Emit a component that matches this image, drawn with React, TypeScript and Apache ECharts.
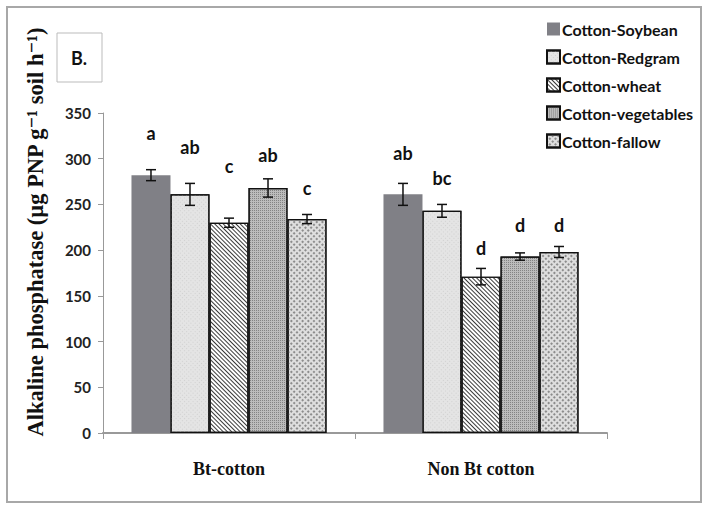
import React, { useEffect, useRef } from "react";
import * as echarts from "echarts";

const categories = ["Bt-cotton", "Non Bt cotton"];
const seriesNames = ["Cotton-Soybean", "Cotton-Redgram", "Cotton-wheat", "Cotton-vegetables", "Cotton-fallow"];
// values per series: [Bt-cotton, Non Bt cotton]
const soybean = [282, 261];
const redgram = [261, 243];
const wheat = [230, 171];
const vegetables = [268, 193];
const fallow = [234, 198];
const soybeanErr = [6, 12];
const redgramErr = [12, 7];
const wheatErr = [5, 9];
const vegetablesErr = [10, 4];
const fallowErr = [5, 6];
const soybeanLetters = ["a", "ab"];
const redgramLetters = ["ab", "bc"];
const wheatLetters = ["c", "d"];
const vegetablesLetters = ["ab", "d"];
const fallowLetters = ["c", "d"];
// letter heights (axis units) as placed in the figure
const soybeanLetterLevel = [328, 306];
const redgramLetterLevel = [313, 279];
const wheatLetterLevel = [292, 202];
const vegetablesLetterLevel = [304, 227];
const fallowLetterLevel = [268, 227];
const yTicks = { min: 0, max: 350, interval: 50 };

const values = [soybean, redgram, wheat, vegetables, fallow];
const errs = [soybeanErr, redgramErr, wheatErr, vegetablesErr, fallowErr];
const letters = [soybeanLetters, redgramLetters, wheatLetters, vegetablesLetters, fallowLetters];
const letterLevels = [soybeanLetterLevel, redgramLetterLevel, wheatLetterLevel, vegetablesLetterLevel, fallowLetterLevel];

const CAT_GAP = 0.226;
const LABEL_FONT = "Lato, 'Open Sans', sans-serif";
const SERIF = "'Liberation Serif', 'DejaVu Serif', serif";

const styles: any[] = [
  { color: "#808086", borderWidth: 0 },
  {
    color: "#e4e4e4", borderColor: "#111", borderWidth: 1.2,
    decal: { symbol: "rect", symbolSize: 1, color: "#d0d0d0", dashArrayX: [1, 2], dashArrayY: [1, 2], rotation: Math.PI / 4 },
  },
  {
    color: "#ffffff", borderColor: "#111", borderWidth: 1.2,
    decal: { symbol: "rect", symbolSize: 1, color: "#3a3a3a", dashArrayX: [1, 0], dashArrayY: [1, 1.2], rotation: Math.PI / 4 },
  },
  {
    color: "#bcbcbc", borderColor: "#111", borderWidth: 1.2,
    decal: { symbol: "rect", symbolSize: 1, color: "#838383", dashArrayX: [1, 1], dashArrayY: [1, 1] },
  },
  {
    color: "#dedede", borderColor: "#111", borderWidth: 1.2,
    decal: { symbol: "rect", symbolSize: 1, color: "#8c8c8c", dashArrayX: [1.6, 1.6], dashArrayY: [1.6, 1.6], rotation: Math.PI / 4 },
  },
];

export default function App() {
  const ref = useRef<HTMLDivElement>(null);
  useEffect(() => {
    document.body.style.margin = "0";
    const chart = echarts.init(ref.current!, null, { renderer: "svg" });

    const errData: any[] = [];
    const letterData: any[] = [];
    values.forEach((arr, s) => {
      arr.forEach((v, c) => {
        errData.push([c, s, v, errs[s][c]]);
        letterData.push([c, s, letterLevels[s][c], letters[s][c]]);
      });
    });

    const offsetX = (api: any, s: number) => {
      const band = api.size([1, 0])[0];
      const barW = (band * (1 - CAT_GAP)) / values.length;
      return (s - (values.length - 1) / 2) * barW;
    };

    const option: any = {
      animation: false,
      backgroundColor: "#ffffff",
      grid: { left: 103, right: 96, top: 113, bottom: 72 },
      legend: {
        orient: "vertical",
        left: 541,
        top: 16,
        itemWidth: 13,
        itemHeight: 13,
        itemGap: 12,
        icon: "rect",
        data: seriesNames,
        textStyle: { fontFamily: LABEL_FONT, fontWeight: "bold", fontSize: 16, color: "#111", padding: [0, 0, 0, -3] },
      },
      xAxis: {
        type: "category",
        data: categories,
        axisLine: { lineStyle: { color: "#999", width: 2 } },
        axisTick: { show: true, length: 6, lineStyle: { color: "#999" } },
        axisLabel: { margin: 27, fontFamily: SERIF, fontWeight: "bold", fontSize: 18, color: "#111" },
      },
      yAxis: {
        type: "value",
        min: yTicks.min,
        max: yTicks.max,
        interval: yTicks.interval,
        axisLine: { show: true, lineStyle: { color: "#999" } },
        axisTick: { show: true, length: 5, lineStyle: { color: "#999" } },
        splitLine: { show: false },
        axisLabel: { margin: 12, fontFamily: LABEL_FONT, fontWeight: "bold", fontSize: 15, color: "#222" },
      },
      series: [
        ...seriesNames.map((name, s) => ({
          name,
          type: "bar",
          data: values[s],
          barGap: "0%",
          barCategoryGap: CAT_GAP * 100 + "%",
          itemStyle: styles[s],
        })),
        {
          type: "custom",
          name: "err",
          data: errData,
          encode: { x: 0, y: 2 },
          z: 10,
          renderItem: (params: any, api: any) => {
            const c = api.value(0);
            const s = api.value(1);
            const v = api.value(2);
            const e = api.value(3);
            const dx = offsetX(api, s);
            const hi = api.coord([c, v + e]);
            const lo = api.coord([c, v - e]);
            const x = hi[0] + dx;
            const cap = 5;
            const st = { stroke: "#111", lineWidth: 1.5 };
            return {
              type: "group",
              children: [
                { type: "line", shape: { x1: x, y1: hi[1], x2: x, y2: lo[1] }, style: st },
                { type: "line", shape: { x1: x - cap, y1: hi[1], x2: x + cap, y2: hi[1] }, style: st },
                { type: "line", shape: { x1: x - cap, y1: lo[1], x2: x + cap, y2: lo[1] }, style: st },
              ],
            };
          },
        },
        {
          type: "custom",
          name: "letters",
          data: letterData,
          encode: { x: 0, y: 2 },
          z: 10,
          renderItem: (params: any, api: any) => {
            const c = api.value(0);
            const s = api.value(1);
            const lvl = api.value(2);
            const txt = letterData[params.dataIndex][3];
            const p = api.coord([c, lvl]);
            return {
              type: "text",
              x: p[0] + offsetX(api, s),
              y: p[1],
              style: {
                text: txt,
                fontFamily: LABEL_FONT,
                fontWeight: "bold",
                fontSize: 18,
                fill: "#111",
                align: "center",
                verticalAlign: "middle",
              },
            };
          },
        },
      ],
      graphic: [
        {
          type: "rect",
          shape: { x: 7, y: 7, width: 694, height: 495 },
          style: { fill: "none", stroke: "#a8a8a8", lineWidth: 2 },
          silent: true,
        },
        {
          type: "rect",
          shape: { x: 57, y: 33, width: 45, height: 49 },
          style: { fill: "#fff", stroke: "#bbb", lineWidth: 1 },
        },
        {
          type: "text",
          x: 79,
          y: 58,
          style: { text: "B.", fontFamily: LABEL_FONT, fontWeight: "bold", fontSize: 18, fill: "#111", align: "center", verticalAlign: "middle" },
        },
        {
          type: "text",
          x: 35,
          y: 232,
          rotation: Math.PI / 2,
          style: {
            text: "Alkaline phosphatase (µg PNP g⁻¹ soil h⁻¹)",
            fontFamily: SERIF,
            fontWeight: "bold",
            fontSize: 22.5,
            fill: "#111",
            align: "center",
            verticalAlign: "middle",
          },
        },
      ],
    };
    chart.setOption(option);
    return () => chart.dispose();
  }, []);
  return <div ref={ref} style={{ position: "absolute", left: 0, top: 0, width: 703, height: 505 }} />;
}
